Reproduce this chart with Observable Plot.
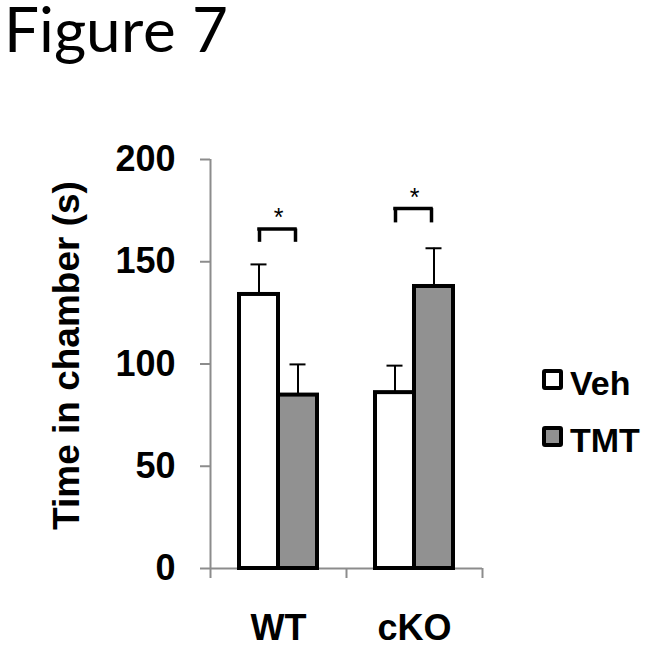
<!DOCTYPE html>
<html><head><meta charset="utf-8">
<script src="https://cdn.jsdelivr.net/npm/d3@7"></script>
<script src="https://cdn.jsdelivr.net/npm/@observablehq/plot@0.6"></script>
<style>
@font-face{font-family:"LatoTitle";src:local("Lato Regular"),local("Lato-Regular"),local("Lato");ascent-override:80%;descent-override:20%;line-gap-override:0%;}
body{margin:0;background:#fff;}
#wrap{position:relative;width:653px;height:649px;overflow:hidden;background:#fff;}
#chart{position:absolute;left:0;top:60px;}
#title{position:absolute;left:4px;top:2px;font-family:"LatoTitle",Lato;font-size:62px;line-height:normal;color:#000;z-index:2;white-space:nowrap;}
.leg{position:absolute;left:542px;height:34px;font:bold 34px "Liberation Sans";line-height:34px;color:#000;z-index:2;}
.sw{position:absolute;left:0;top:3px;width:13px;height:13px;border:4px solid #000;border-radius:3px;}
.lt{position:absolute;left:28px;top:0;white-space:nowrap;}
</style>
</head><body>
<div id="wrap">
  <div id="chart"></div>
  <div id="title">Figure 7</div>
  <div id="legend"></div>
</div>
<script>
const groups = ["WT", "cKO"];
const series = ["Veh", "TMT"];
const vehMean = [134, 86];
const vehErr = [14.7, 13.2];
const tmtMean = [84.8, 137.9];
const tmtErr = [15, 18.7];
const sigTop = [166, 176];
const sigLeg = [159.5, 169];
const sigLabels = ["*", "*"];
const yTicks = [0, 50, 100, 150, 200];
const yLabel = "Time in chamber (s)";
const colors = ["#ffffff", "#919191"];

const rows = groups.flatMap((g, i) => [
  {group: g, series: series[0], mean: vehMean[i], err: vehErr[i]},
  {group: g, series: series[1], mean: tmtMean[i], err: tmtErr[i]}
]);
const veh = rows.filter(d => d.series === series[0]);
const tmt = rows.filter(d => d.series === series[1]);
const sig = groups.map((g, i) => ({group: g, top: sigTop[i], leg: sigLeg[i], label: sigLabels[i]}));

const half = 68;
const axisGray = "#8c8c8c";

const chart = Plot.plot({
  width: 653, height: 589,
  marginLeft: 210, marginRight: 171, marginTop: 99, marginBottom: 81,
  style: {fontFamily: "Liberation Sans", background: "transparent", overflow: "visible"},
  x: {domain: groups, padding: 0},
  y: {domain: [0, 200]},
  color: {domain: series, range: colors},
  marks: [
    Plot.ruleX([groups[0]], {x: d => d, y1: 0, y2: 200, dx: -half, stroke: axisGray, strokeWidth: 2}),
    Plot.axisY({ticks: yTicks, tickSize: 10, tickPadding: 25, stroke: axisGray, strokeWidth: 2, fill: "#000",
      fontSize: 36, fontWeight: "bold", label: null, tickFormat: d => String(d)}),
    Plot.ruleY([0], {stroke: axisGray, strokeWidth: 2}),
    Plot.ruleX(groups, {x: d => d, y1: 0, y2: 0, insetBottom: -10, dx: -half, stroke: axisGray, strokeWidth: 2}),
    Plot.ruleX([groups[groups.length - 1]], {x: d => d, y1: 0, y2: 0, insetBottom: -10, dx: half, stroke: axisGray, strokeWidth: 2}),
    Plot.axisX({tickSize: 0, tickPadding: 46, fontSize: 36, fontWeight: "bold", label: null, fill: "#000"}),
    Plot.text([yLabel], {text: d => d, frameAnchor: "left", textAnchor: "middle", lineAnchor: "middle", rotate: -90, dx: -143, dy: -8.5, fontSize: 37, fontWeight: "bold", fill: "#000"}),
    // error bars
    Plot.ruleX(veh, {x: "group", y1: "mean", y2: d => d.mean + d.err, dx: -19.5, stroke: "#000", strokeWidth: 2}),
    Plot.tickY(veh, {x: "group", y: d => d.mean + d.err, insetLeft: 40.5, insetRight: 79.5, stroke: "#000", strokeWidth: 2}),
    Plot.ruleX(tmt, {x: "group", y1: "mean", y2: d => d.mean + d.err, dx: 19.5, stroke: "#000", strokeWidth: 2}),
    Plot.tickY(tmt, {x: "group", y: d => d.mean + d.err, insetLeft: 79.5, insetRight: 40.5, stroke: "#000", strokeWidth: 2}),
    // bars
    Plot.barY(veh, {x: "group", y: "mean", fill: "series", stroke: "#000", strokeWidth: 4, insetLeft: 29, insetRight: 68}),
    Plot.barY(tmt, {x: "group", y: "mean", fill: "series", stroke: "#000", strokeWidth: 4, insetLeft: 68, insetRight: 29}),
    // significance brackets
    Plot.ruleY(sig, {x1: "group", x2: "group", y: "top", insetLeft: 49, insetRight: 51, stroke: "#000", strokeWidth: 3.5, strokeLinecap: "square"}),
    Plot.ruleX(sig, {x: "group", y1: "top", y2: "leg", dx: -19, stroke: "#000", strokeWidth: 3.5}),
    Plot.ruleX(sig, {x: "group", y1: "top", y2: "leg", dx: 17, stroke: "#000", strokeWidth: 3.5}),
    Plot.text(sig, {x: "group", y: "top", text: "label", dy: -11, fontSize: 25, fill: "#000"})
  ]
});
document.getElementById("chart").appendChild(chart);

const legend = document.getElementById("legend");
series.forEach((s, i) => {
  const row = document.createElement("div");
  row.className = "leg";
  row.style.top = (366 + i * 57) + "px";
  const sw = document.createElement("div");
  sw.className = "sw";
  sw.style.background = colors[i];
  const lt = document.createElement("div");
  lt.className = "lt";
  lt.textContent = s;
  row.appendChild(sw);
  row.appendChild(lt);
  legend.appendChild(row);
});
</script>
</body></html>
